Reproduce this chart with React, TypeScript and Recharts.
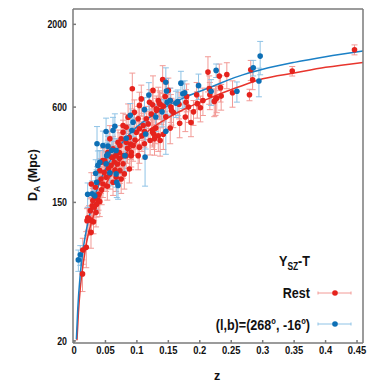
import {
  ComposedChart,
  Scatter,
  Line,
  XAxis,
  YAxis,
  ErrorBar,
} from "recharts";

// [z, D_A (Mpc), error (Mpc)]
const restPoints: [number, number, number][] = [
  [0.0135, 53, 12], [0.0195, 78, 20], [0.014, 75, 14], [0.024, 118, 25], [0.0207, 115, 22],
  [0.0275, 115, 20], [0.031, 113, 18], [0.026, 133, 25], [0.029, 143, 28], [0.03, 154, 30],
  [0.033, 161, 30], [0.038, 156, 28], [0.041, 152, 30], [0.0275, 196, 35], [0.034, 187, 35],
  [0.038, 201, 40], [0.043, 211, 40], [0.046, 196, 35], [0.051, 216, 40], [0.057, 227, 45],
  [0.062, 201, 35], [0.067, 216, 40], [0.075, 211, 40], [0.08, 227, 45], [0.073, 238, 40],
  [0.078, 263, 50], [0.088, 244, 45], [0.091, 296, 55], [0.102, 296, 55], [0.083, 296, 50],
  [0.062, 289, 55], [0.051, 263, 50], [0.046, 276, 55], [0.059, 257, 50], [0.041, 238, 45],
  [0.027, 97, 20], [0.036, 146, 25], [0.032, 140, 25], [0.039, 169, 35], [0.022, 120, 20],
  [0.048, 232, 45], [0.055, 245, 45], [0.064, 270, 50], [0.072, 285, 55], [0.085, 330, 65],
  [0.097, 372, 75], [0.108, 395, 80], [0.118, 470, 95], [0.065, 240, 45], [0.044, 180, 35],
  [0.053, 190, 35], [0.035, 130, 25], [0.072, 310, 60], [0.09, 350, 70], [0.112, 420, 85],
  [0.0927, 784, 200], [0.1256, 765, 180], [0.141, 896, 200], [0.083, 448, 90], [0.078, 416, 80],
  [0.075, 378, 80], [0.073, 343, 70], [0.083, 360, 70], [0.088, 386, 80], [0.099, 416, 90],
  [0.104, 438, 90], [0.11, 459, 90], [0.115, 506, 100], [0.123, 543, 110], [0.131, 585, 120],
  [0.136, 630, 130], [0.125, 416, 80], [0.128, 378, 80], [0.112, 352, 70], [0.104, 335, 70],
  [0.091, 311, 60], [0.078, 296, 60], [0.067, 296, 60], [0.059, 290, 55], [0.049, 276, 55],
  [0.043, 269, 50], [0.07, 360, 70], [0.057, 378, 80], [0.078, 459, 90], [0.086, 518, 110],
  [0.096, 556, 110], [0.104, 615, 130], [0.107, 676, 150], [0.12, 643, 130], [0.134, 661, 140],
  [0.102, 506, 100], [0.094, 343, 70], [0.062, 327, 65], [0.054, 311, 60], [0.069, 262, 50],
  [0.137, 625, 120], [0.131, 572, 110], [0.125, 620, 120], [0.145, 700, 140], [0.15, 765, 150],
  [0.153, 661, 130], [0.154, 600, 120], [0.142, 610, 120], [0.139, 575, 110], [0.146, 522, 100],
  [0.155, 572, 110], [0.158, 555, 110], [0.167, 625, 120], [0.178, 643, 130], [0.179, 700, 140],
  [0.182, 600, 120], [0.168, 474, 90], [0.153, 442, 90], [0.13, 442, 90], [0.125, 430, 85],
  [0.142, 404, 80], [0.134, 395, 80], [0.127, 404, 80], [0.137, 369, 75], [0.121, 369, 70],
  [0.177, 520, 100], [0.186, 480, 90], [0.19, 560, 100], [0.195, 718, 140], [0.196, 631, 120],
  [0.201, 594, 110], [0.205, 661, 130], [0.213, 998, 250], [0.215, 785, 160], [0.216, 718, 140],
  [0.223, 652, 130], [0.225, 672, 140], [0.227, 683, 130], [0.231, 942, 180], [0.233, 796, 150],
  [0.234, 704, 130], [0.243, 964, 180], [0.252, 739, 140], [0.279, 718, 60], [0.281, 1033, 150],
  [0.284, 893, 120], [0.347, 1013, 70], [0.446, 1383, 100],
];

const dipolePoints: [number, number, number][] = [
  [0.0069, 65, 10], [0.01, 70, 10], [0.0217, 169, 30], [0.033, 165, 30], [0.029, 170, 35],
  [0.0345, 229, 50], [0.038, 257, 60], [0.057, 231, 40], [0.067, 227, 40], [0.07, 192, 35],
  [0.054, 303, 90], [0.0366, 352, 100], [0.051, 421, 90], [0.046, 343, 80], [0.054, 340, 80],
  [0.062, 427, 90], [0.065, 454, 90], [0.052, 296, 60], [0.06, 320, 60], [0.067, 319, 60],
  [0.0895, 532, 100], [0.094, 482, 90], [0.092, 427, 85], [0.083, 381, 80], [0.112, 578, 110],
  [0.119, 716, 140], [0.114, 406, 80], [0.051, 263, 50], [0.041, 269, 50], [0.081, 296, 60],
  [0.147, 758, 150], [0.148, 643, 120], [0.153, 660, 130], [0.162, 636, 120], [0.165, 650, 120],
  [0.17, 850, 160], [0.173, 728, 140], [0.176, 740, 140], [0.198, 820, 150], [0.218, 755, 140],
  [0.226, 1023, 100], [0.259, 755, 110], [0.285, 1064, 120], [0.294, 877, 180], [0.296, 1260, 300],
  [0.146, 422, 120], [0.113, 290, 100], [0.068, 201, 40], [0.036, 201, 40], [0.13, 520, 100],
  [0.14, 560, 110], [0.146, 862, 200],
];

const restFitZ = [0.0047, 0.007, 0.01, 0.015, 0.02, 0.03, 0.045, 0.06, 0.08, 0.1, 0.12, 0.15, 0.18, 0.22, 0.26, 0.3, 0.35, 0.4, 0.4595];
const restFitD = [20.2, 30, 43, 63, 84, 120, 176, 228, 298, 362, 430, 515, 594, 695, 800, 905, 985, 1070, 1150];
const dipoleFitZ = [0.0038, 0.006, 0.01, 0.015, 0.02, 0.03, 0.045, 0.06, 0.08, 0.1, 0.12, 0.15, 0.18, 0.22, 0.26, 0.3, 0.35, 0.4, 0.4595];
const dipoleFitD = [20.5, 32, 53, 78, 102, 150, 220, 288, 372, 450, 516, 615, 702, 810, 935, 1040, 1150, 1250, 1357];

const xTicks = [0, 0.05, 0.1, 0.15, 0.2, 0.25, 0.3, 0.35, 0.4, 0.45];
const yTicks = [20, 150, 600, 2000];

const toRows = (pts: [number, number, number][]) => pts.map(([z, d, err]) => ({ z, d, err }));
const toLine = (zs: number[], ds: number[]) => zs.map((z, i) => ({ z, d: ds[i] }));

const FONT = '"Liberation Sans", Arial, sans-serif';
const RED = "#e5231d";
const BLUE = "#0d6fb5";
const RED_LIGHT = "#f29a96";
const BLUE_LIGHT = "#8fc3e6";
const AXIS = "#7a7a7a";
const INK = "#111";

const X_DOMAIN: [number, number] = [-0.0016, 0.4595];
const Y_DOMAIN: [number, number] = [19.4, 2500];

const dot = (color: string) => (props: any) => (
  <circle cx={props.cx} cy={props.cy} r={2.8} fill={color} />
);

// narrow bold tick labels (squeezed horizontally, like a condensed face)
const XTick = (props: any) => (
  <g transform={`translate(${props.x},${props.y}) scale(0.82,1)`}>
    <text x={0} y={0} dy={8} textAnchor="middle" fill={INK} fontSize={11.5} fontWeight={700} fontFamily={FONT}>
      {props.payload.value}
    </text>
  </g>
);

const YTick = (props: any) => (
  <g transform={`translate(${props.x},${props.y}) scale(0.8,1)`}>
    <text x={0} y={0} dy={4} textAnchor="end" fill={INK} fontSize={11} fontWeight={700} fontFamily={FONT}>
      {props.payload.value}
    </text>
  </g>
);

function LegendMark({ y, light, color }: { y: number; light: string; color: string }) {
  return (
    <g>
      <line x1={318} x2={351} y1={y} y2={y} stroke={light} strokeWidth={1} />
      <line x1={318} x2={318} y1={y - 1.5} y2={y + 1.5} stroke={light} strokeWidth={1} />
      <line x1={351} x2={351} y1={y - 1.5} y2={y + 1.5} stroke={light} strokeWidth={1} />
      <circle cx={335} cy={y} r={2.8} fill={color} />
    </g>
  );
}

export default function App() {
  return (
    <div style={{ position: "absolute", top: 0, left: 0, width: 374, height: 382, background: "#fff" }}>
      <ComposedChart width={374} height={382} margin={{ top: 0, right: 0, bottom: 0, left: 0 }}>
        <XAxis
          xAxisId={0}
          type="number"
          dataKey="z"
          domain={X_DOMAIN}
          allowDataOverflow
          ticks={xTicks}
          height={39}
          stroke={AXIS}
          strokeWidth={1.5}
          tickSize={-3}
          tickMargin={6}
          tick={<XTick />}
        />
        <XAxis
          xAxisId="top"
          orientation="top"
          type="number"
          dataKey="z"
          domain={X_DOMAIN}
          allowDataOverflow
          ticks={xTicks}
          height={9}
          stroke={AXIS}
          strokeWidth={1.5}
          tickSize={-3}
          tick={false}
        />
        <YAxis
          yAxisId={0}
          type="number"
          dataKey="d"
          scale="log"
          domain={Y_DOMAIN}
          allowDataOverflow
          ticks={yTicks}
          width={73}
          stroke={AXIS}
          strokeWidth={1.5}
          tickSize={-3}
          tickMargin={9}
          tick={<YTick />}
        />
        <YAxis
          yAxisId="right"
          orientation="right"
          type="number"
          dataKey="d"
          scale="log"
          domain={Y_DOMAIN}
          allowDataOverflow
          ticks={yTicks}
          width={11}
          stroke={AXIS}
          strokeWidth={1.5}
          tickSize={-3}
          tick={false}
        />
        <Scatter data={toRows(restPoints)} dataKey="d" shape={dot(RED)} isAnimationActive={false}>
          <ErrorBar dataKey="err" direction="y" width={3} stroke={RED_LIGHT} strokeWidth={1} />
        </Scatter>
        <Scatter data={toRows(dipolePoints)} dataKey="d" shape={dot(BLUE)} isAnimationActive={false}>
          <ErrorBar dataKey="err" direction="y" width={3} stroke={BLUE_LIGHT} strokeWidth={1} />
        </Scatter>
        <Line
          data={toLine(restFitZ, restFitD)}
          dataKey="d"
          type="monotone"
          stroke="#e8352d"
          strokeWidth={1.5}
          dot={false}
          activeDot={false}
          isAnimationActive={false}
        />
        <Line
          data={toLine(dipoleFitZ, dipoleFitD)}
          dataKey="d"
          type="monotone"
          stroke="#1b80c6"
          strokeWidth={1.5}
          dot={false}
          activeDot={false}
          isAnimationActive={false}
        />
      </ComposedChart>
      <svg
        width={374}
        height={382}
        style={{ position: "absolute", top: 0, left: 0, pointerEvents: "none" }}
        fontFamily={FONT}
        fontWeight={700}
        fill={INK}
      >
        <text x={217} y={379.5} fontSize={12.5} textAnchor="middle">z</text>
        <text transform="translate(37,175) rotate(-90)" fontSize={12.5} textAnchor="middle">
          D<tspan fontSize={8.5} dy={3}>A</tspan>
          <tspan dy={-3}> (Mpc)</tspan>
        </text>
        <g transform="translate(310,266) scale(0.84,1)">
          <text x={0} y={0} fontSize={15} textAnchor="end">
            Y<tspan fontSize={10} dy={4}>SZ</tspan>
            <tspan dy={-4}>-T</tspan>
          </text>
        </g>
        <g transform="translate(310,298) scale(0.84,1)">
          <text x={0} y={0} fontSize={15} textAnchor="end">Rest</text>
        </g>
        <g transform="translate(310,330) scale(0.84,1)">
          <text x={0} y={0} fontSize={15} textAnchor="end">
            (l,b)=(268<tspan fontSize={9} dy={-6}>o</tspan>
            <tspan dy={6}>, -16</tspan>
            <tspan fontSize={9} dy={-6}>o</tspan>
            <tspan dy={6}>)</tspan>
          </text>
        </g>
        <LegendMark y={293} light={RED_LIGHT} color={RED} />
        <LegendMark y={324} light={BLUE_LIGHT} color={BLUE} />
      </svg>
    </div>
  );
}
